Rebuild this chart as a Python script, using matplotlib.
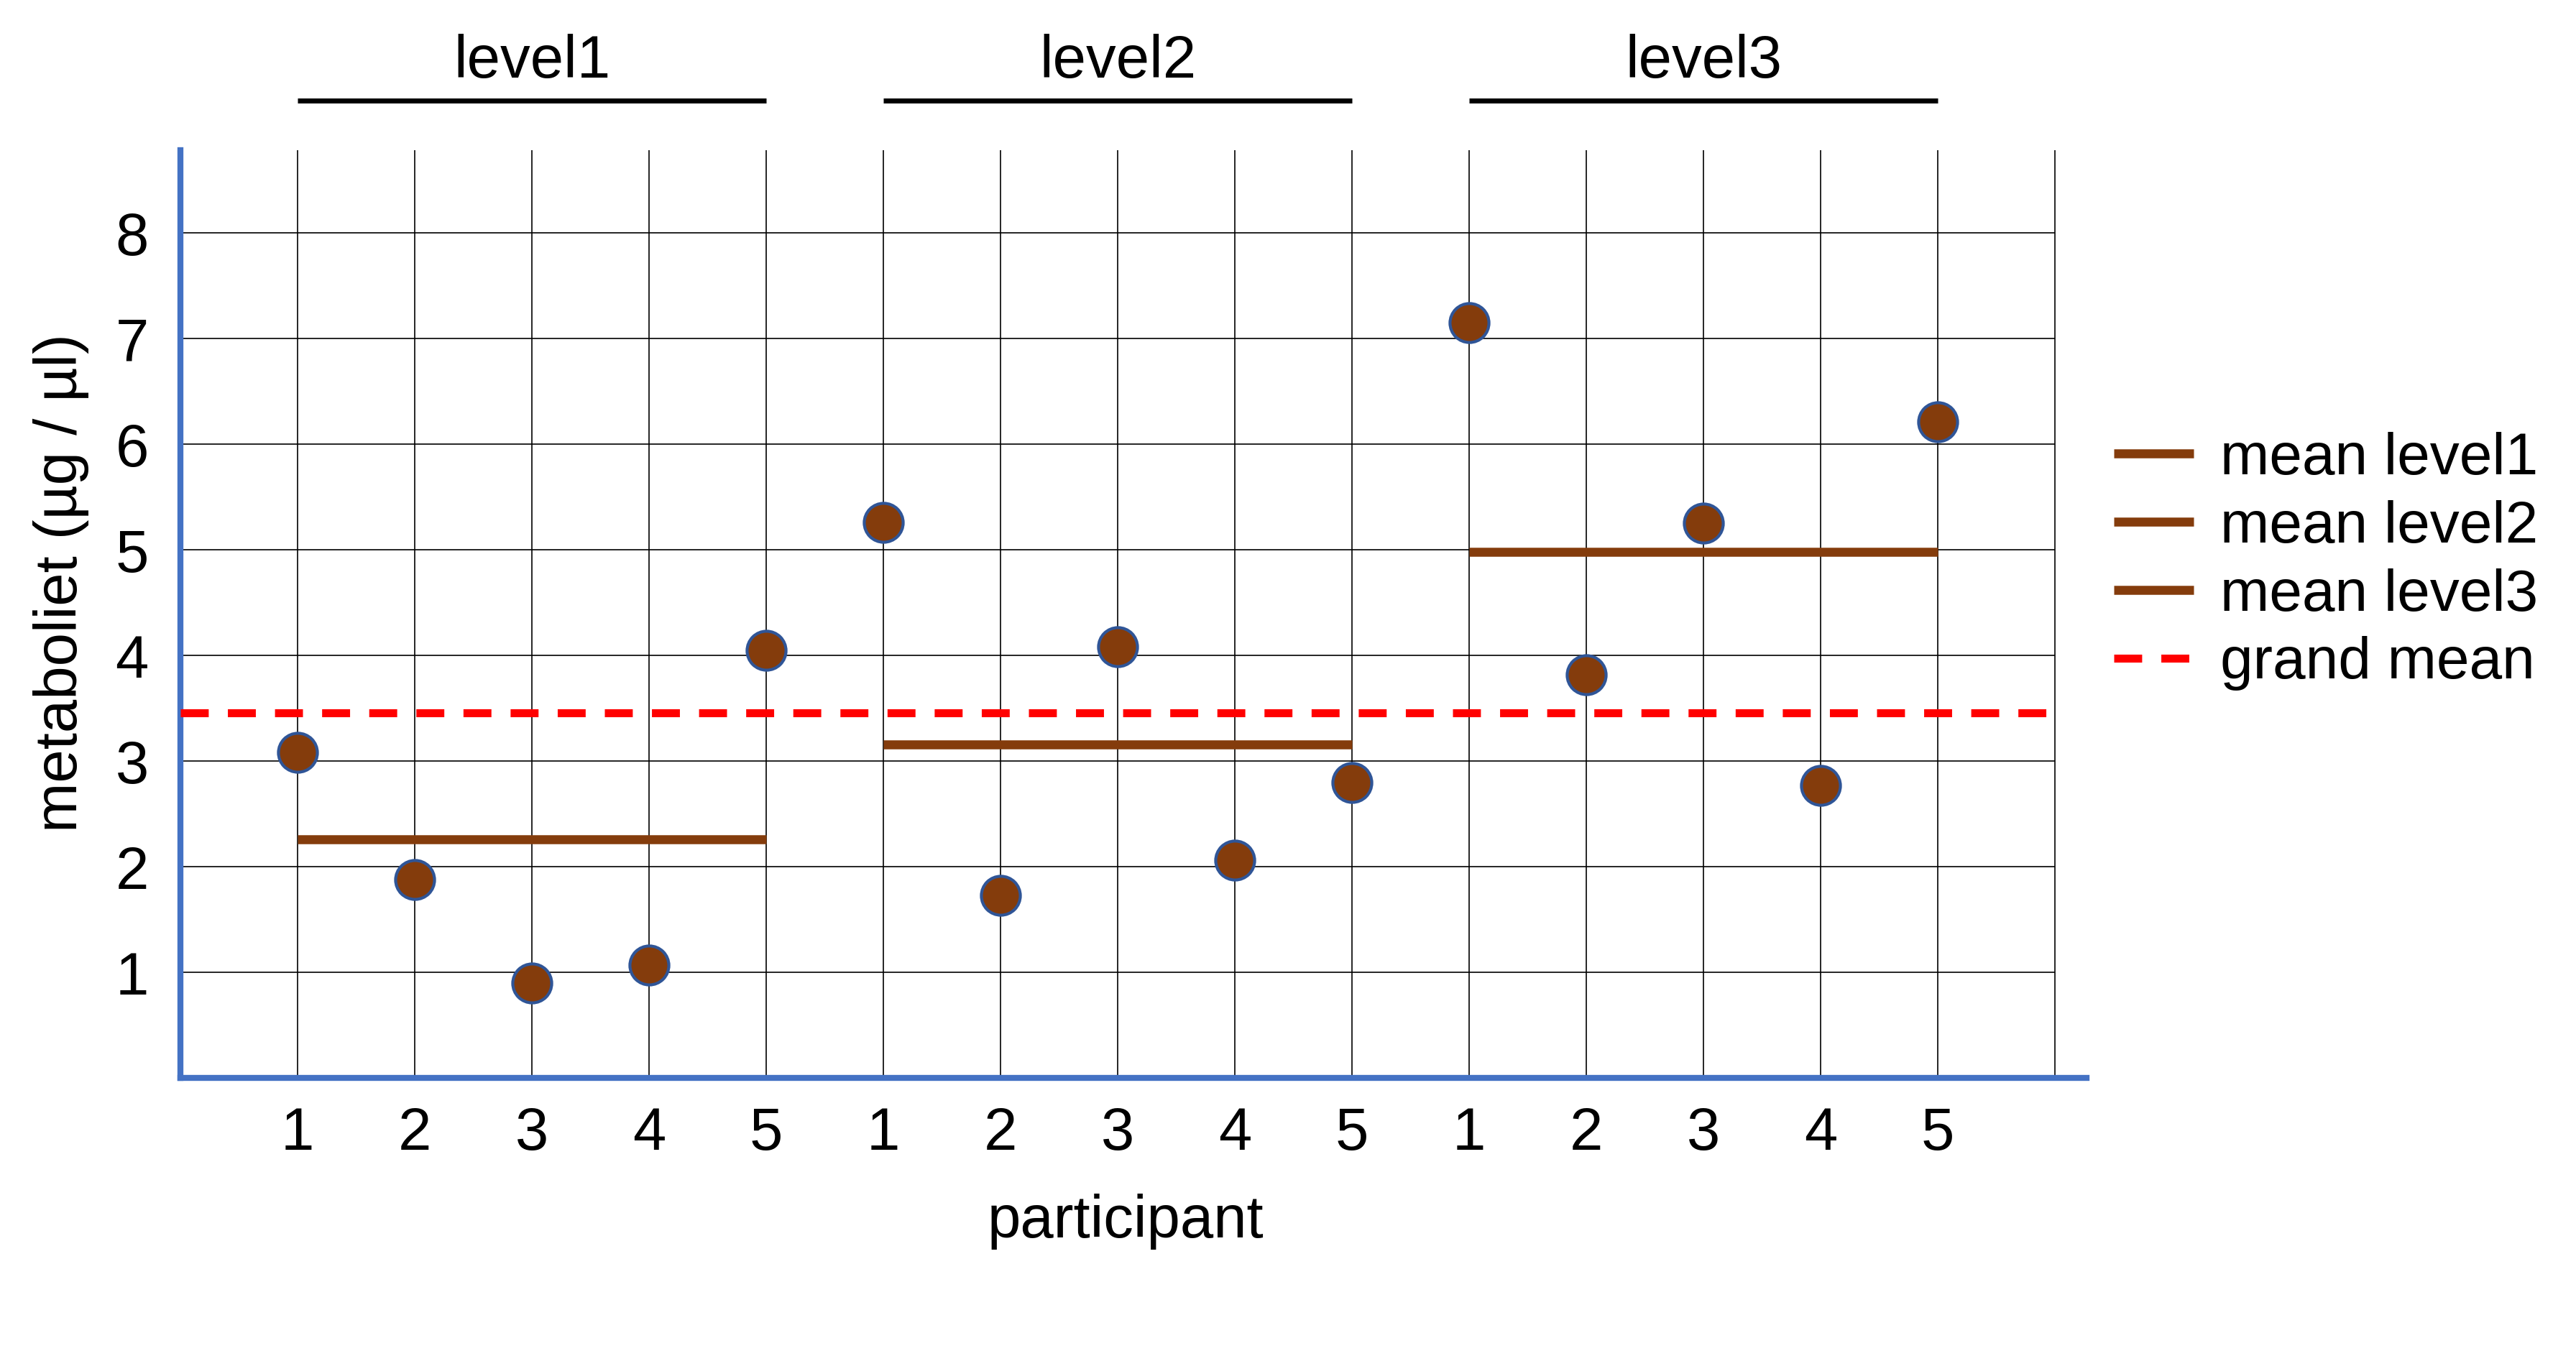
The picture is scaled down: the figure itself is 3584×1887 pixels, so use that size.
import numpy as np
import matplotlib.pyplot as plt

plt.rcParams['font.family'] = ['Liberation Sans', 'DejaVu Sans']

# values
participants = [1, 2, 3, 4, 5]
levels = ['level1', 'level2', 'level3']
level1_values = [3.08, 1.88, 0.90, 1.07, 4.05]
level2_values = [5.26, 1.73, 4.08, 2.06, 2.80]
level3_values = [7.15, 3.82, 5.25, 2.77, 6.21]
level_means = [2.26, 3.16, 4.98]
grand_mean = 3.46
y_ticks = [1, 2, 3, 4, 5, 6, 7, 8]

values = [level1_values, level2_values, level3_values]
n = len(participants)
brown = '#843C0C'
blue = '#4472C4'

fig = plt.figure(figsize=(17.92, 9.435), dpi=200)
ax = fig.add_axes([0.0701, 0.205, 0.7399, 0.684])

ax.set_xlim(-1, 15.27)
ax.set_ylim(0, 8.78)

# grid
ax.set_xticks(np.arange(3 * n + 1))
ax.set_xticklabels([str(p) for p in participants * 3] + [''])
ax.grid(axis='x', color='black', lw=0.6, zorder=0)
ax.hlines(y_ticks, -1, 3 * n, color='black', lw=0.6, zorder=0)
ax.set_yticks(y_ticks)
ax.tick_params(axis='both', length=0, labelsize=30)
ax.tick_params(axis='x', pad=14)
ax.tick_params(axis='y', pad=16)

for s in ['top', 'right']:
    ax.spines[s].set_visible(False)
for s in ['left', 'bottom']:
    ax.spines[s].set_color(blue)
    ax.spines[s].set_linewidth(3)

# group means, group headers and points
for i, (lev, vals, m) in enumerate(zip(levels, values, level_means)):
    x = np.arange(n) + i * n
    ax.plot([x[0], x[-1]], [m, m], color=brown, lw=4.5, solid_capstyle='butt',
            zorder=2, label='mean ' + lev)
    ax.plot([x[0], x[-1]], [9.25, 9.25], color='black', lw=2.5, clip_on=False,
            solid_capstyle='butt')
    ax.text(x[2], 9.62, lev, ha='center', va='center', fontsize=30)
    ax.plot(x, vals, 'o', ms=19.5, mfc=brown, mec='#2F5597', mew=1.5, zorder=4,
            clip_on=False)

ax.plot([-1, 3 * n], [grand_mean, grand_mean], color='red', lw=4, ls=(0, (3.5, 2.4)),
        zorder=3, label='grand mean')

fig.text(0.437, 0.099, 'participant', ha='center', va='center', fontsize=30)
fig.text(0.0236, 0.570, 'metaboliet (µg / µl)', ha='center', va='center',
         rotation=90, fontsize=30)

ax.legend(loc='center left', bbox_to_anchor=(0.8206, 0.586),
          bbox_transform=fig.transFigure, frameon=False, fontsize=29.5,
          handlelength=1.36, handletextpad=0.44, labelspacing=0.23,
          borderpad=0, borderaxespad=0)

fig.savefig('out.png', dpi=200)
